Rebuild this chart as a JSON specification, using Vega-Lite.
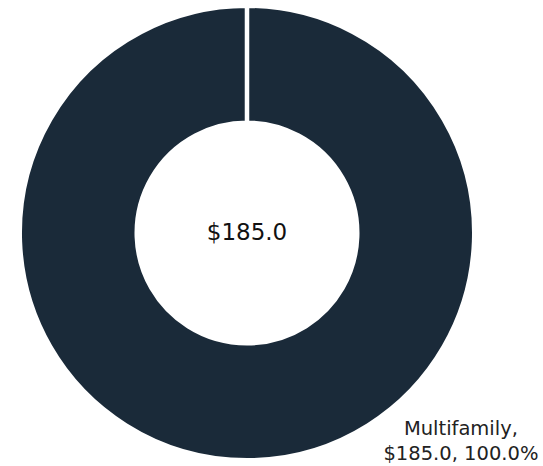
{
  "$schema": "https://vega.github.io/schema/vega-lite/v6.json",
  "autosize": {"type": "none"},
  "width": 494,
  "height": 466,
  "padding": {"left": 0, "top": 0, "right": 49, "bottom": 0},
  "background": "white",
  "view": {"stroke": null},
  "data": {"values": [{"category": "Multifamily", "value": 185.0}]},
  "transform": [
    {"joinaggregate": [{"op": "sum", "field": "value", "as": "total"}]},
    {"calculate": "datum.category + ',|$' + format(datum.value, '.1f') + ', ' + format(datum.value / datum.total, '.1%')", "as": "label"}
  ],
  "layer": [
    {
      "mark": {"type": "arc", "outerRadius": 227.25, "innerRadius": 110.25, "stroke": "white", "strokeWidth": 4.5},
      "encoding": {
        "theta": {"field": "value", "type": "quantitative", "stack": true, "scale": {"range": [0, 6.2831]}},
        "color": {"field": "category", "type": "nominal", "scale": {"range": ["#1a2a39"]}, "legend": null}
      }
    },
    {
      "mark": {"type": "text", "font": "DejaVu Sans", "fontSize": 23, "color": "#111111", "align": "center", "baseline": "middle"},
      "encoding": {
        "text": {"aggregate": "sum", "field": "value", "type": "quantitative", "format": "$.1f"}
      }
    },
    {
      "mark": {"type": "text", "font": "DejaVu Sans", "fontSize": 19.5, "color": "#222222", "align": "center", "baseline": "middle", "lineBreak": "|", "lineHeight": 25, "theta": 2.312, "radius": 290},
      "encoding": {
        "text": {"field": "label", "type": "nominal"}
      }
    }
  ]
}
